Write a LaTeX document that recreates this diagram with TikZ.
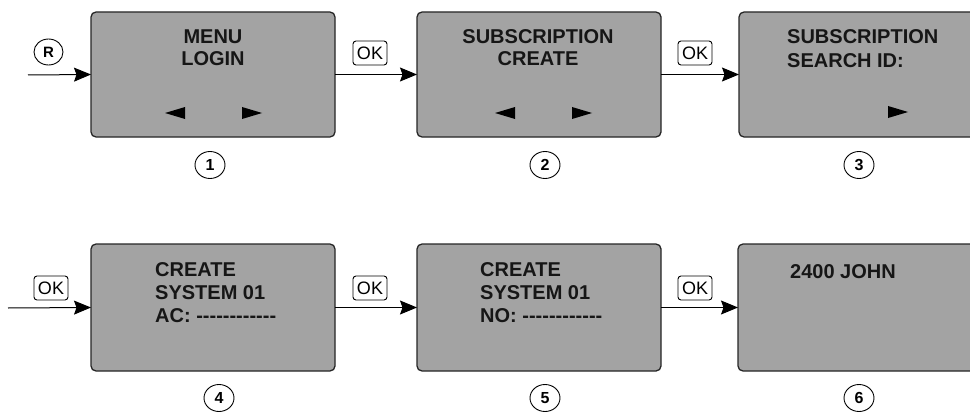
\documentclass[tikz,border=0pt]{standalone}
\usepackage{fontspec}
\setmainfont{Liberation Sans}
\usetikzlibrary{arrows.meta,shapes.geometric}
\definecolor{lcdgray}{RGB}{163,163,163}
\definecolor{ink}{RGB}{22,22,22}
\newcommand\lcdhy{-\kern0pt}
\newcommand\lcddashes{\lcdhy\lcdhy\lcdhy\lcdhy\lcdhy\lcdhy\lcdhy\lcdhy\lcdhy\lcdhy\lcdhy-}
\begin{document}
\begin{tikzpicture}[x=1pt,y=-1pt,
  screen/.style={draw=black!85, line width=1.3pt, fill=lcdgray, rounded corners=5pt,
    minimum width=244pt, inner sep=0pt, outer sep=0pt, anchor=north west},
  lcd/.style={font=\fontsize{20}{22}\selectfont\bfseries, text=ink, inner sep=0pt},
  conn/.style={draw=black, line width=1pt, -{Stealth[length=17pt,width=14pt,inset=2.5pt]}},
  okbox/.style={draw=black, rounded corners=3pt, line width=0.9pt, fill=white,
    minimum width=34pt, minimum height=24pt, inner sep=0pt, font=\fontsize{18}{18}\selectfont},
  num/.style={ellipse, draw=black, line width=0.9pt, minimum width=30pt, minimum height=27pt,
    inner sep=0pt, font=\fontsize{16}{16}\selectfont\bfseries},
  tri/.style={fill=black}
]
\useasboundingbox (0,0) rectangle (970,412);
\clip (0,0) rectangle (970,412);

% screens
\node[screen, minimum height=125pt] (s1) at (91,12) {};
\node[screen, minimum height=125pt] (s2) at (417,12) {};
\node[screen, minimum height=125pt] (s3) at (739,12) {};
\node[screen, minimum height=127pt] (s4) at (91,244) {};
\node[screen, minimum height=127pt] (s5) at (417,244) {};
\node[screen, minimum height=127pt] (s6) at (738,244) {};

% texts row 1
\node[lcd, anchor=base] (t1a) at (213,44) {MENU};
\node[lcd, anchor=base] (t1b) at (213,66) {LOGIN};
\node[lcd, anchor=base] (t2a) at (538,44) {SUBSCRIPTION};
\node[lcd, anchor=base] (t2b) at (538,66) {CREATE};
\node[lcd, anchor=base west] (t3a) at (787,44) {SUBSCRIPTION};
\node[lcd, anchor=base west] (t3b) at (787,67) {SEARCH ID:};

% texts row 2
\node[lcd, anchor=base west] (t4a) at (155,276) {CREATE};
\node[lcd, anchor=base west] (t4b) at (155,299) {SYSTEM 01};
\node[lcd, anchor=base west] (t4c) at (155,322) {AC: \lcddashes};
\node[lcd, anchor=base west] (t5a) at (480,276) {CREATE};
\node[lcd, anchor=base west] (t5b) at (480,299) {SYSTEM 01};
\node[lcd, anchor=base west] (t5c) at (480,322) {NO: \lcddashes};
\node[lcd, anchor=base west] (t6a) at (790,278) {2400 JOHN};

% navigation triangles
\fill[tri] (165,113) -- (185,107) -- (185,119) -- cycle;
\fill[tri] (262,113) -- (242,107) -- (242,119) -- cycle;
\fill[tri] (495,113) -- (515,107) -- (515,119) -- cycle;
\fill[tri] (592,113) -- (572,107) -- (572,119) -- cycle;
\fill[tri] (908,112) -- (888,106) -- (888,118) -- cycle;

% connectors
\coordinate (in1) at (28,75);
\coordinate (in4) at (8,308);
\draw[conn] (in1) -- (s1.west);
\draw[conn] (s1.east) -- (s2.west);
\draw[conn] (s2.east) -- (s3.west);
\draw[conn] (in4) -- (s4.west);
\draw[conn] (s4.east) -- (s5.west);
\draw[conn] (s5.east) -- (s6.west);

% key labels
\node[num, minimum width=29pt, minimum height=26pt, font=\fontsize{15}{15}\selectfont\bfseries] (kr) at (48.5,52) {R};
\node[okbox] (ok12) at (370,53) {OK};
\node[okbox] (ok23) at (695,53) {OK};
\node[okbox] (ok4) at (51,288) {OK};
\node[okbox] (ok45) at (370,288) {OK};
\node[okbox] (ok56) at (695,288) {OK};

% step numbers
\node[num] (n1) at (210,165) {1};
\node[num] (n2) at (545,165) {2};
\node[num] (n3) at (859,165) {3};
\node[num] (n4) at (219,398) {4};
\node[num] (n5) at (545,398) {5};
\node[num] (n6) at (859,398) {6};
\end{tikzpicture}
\end{document}
